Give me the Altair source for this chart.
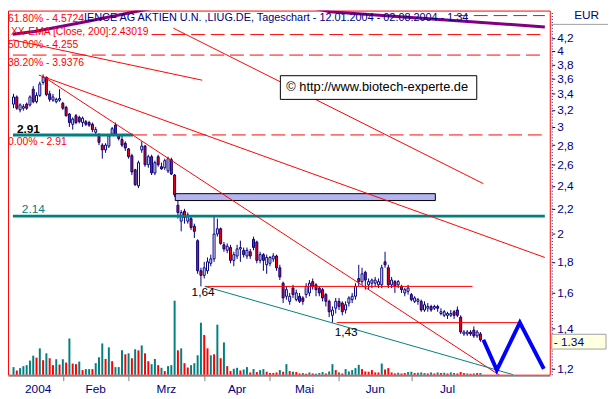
import altair as alt
import pandas as pd

# ---------------- data ----------------
opens = [3.27,3.36,3.20,3.22,3.27,3.26,3.46,3.30,3.38,3.55,
         3.62,3.40,3.32,3.30,3.32,3.28,3.23,3.15,3.03,3.13,
         3.11,3.05,3.06,3.05,3.03,2.94,2.91,2.80,2.75,2.79,
         2.92,3.02,2.91,2.86,2.82,2.76,2.69,2.55,2.40,2.75,
         2.79,2.60,2.68,2.52,2.68,2.58,2.57,2.54,2.65,2.50,
         2.23,2.10,2.18,2.10,2.12,2.06,1.95,1.74,1.71,1.74,
         1.79,1.82,2.00,2.04,1.92,1.88,1.90,1.81,1.84,1.89,
         1.88,1.84,1.87,1.96,1.94,1.81,1.85,1.78,1.79,1.82,
         1.84,1.76,1.66,1.58,1.55,1.63,1.56,1.58,1.57,1.59,
         1.60,1.67,1.65,1.63,1.62,1.59,1.55,1.47,1.51,1.55,
         1.54,1.50,1.54,1.56,1.58,1.69,1.67,1.73,1.65,1.66,
         1.66,1.65,1.65,1.80,1.76,1.65,1.67,1.65,1.64,1.60,
         1.61,1.59,1.55,1.55,1.55,1.50,1.51,1.52,1.51,1.52,
         1.48,1.47,1.47,1.47,1.49,1.50,1.46,1.37,1.37,1.38,
         1.39,1.36,1.37]
highs = [3.40,3.38,3.28,3.27,3.29,3.38,3.50,3.42,3.56,3.66,
         3.63,3.44,3.40,3.35,3.46,3.30,3.25,3.16,3.11,3.15,
         3.13,3.12,3.08,3.07,3.05,3.00,2.93,2.82,2.82,2.92,
         3.00,3.05,2.92,2.90,2.84,2.77,2.71,2.56,2.64,2.84,
         2.80,2.70,2.70,2.64,2.70,2.62,2.66,2.68,2.67,2.51,
         2.27,2.19,2.20,2.17,2.14,2.08,1.96,1.76,1.80,1.83,
         1.85,2.14,2.12,2.05,1.94,1.93,1.92,1.87,1.92,1.95,
         1.90,1.90,1.89,1.98,1.95,1.87,1.86,1.85,1.84,1.86,
         1.85,1.78,1.67,1.64,1.60,1.65,1.62,1.60,1.58,1.66,
         1.68,1.69,1.66,1.64,1.63,1.60,1.56,1.52,1.57,1.57,
         1.55,1.55,1.58,1.60,1.66,1.78,1.76,1.74,1.69,1.69,
         1.70,1.69,1.78,1.87,1.78,1.70,1.68,1.68,1.65,1.63,
         1.65,1.60,1.58,1.57,1.56,1.55,1.54,1.53,1.53,1.53,
         1.51,1.50,1.49,1.50,1.50,1.52,1.47,1.39,1.39,1.39,
         1.41,1.39,1.38]
lows = [3.22,3.20,3.17,3.19,3.20,3.24,3.28,3.28,3.36,3.52,
        3.37,3.30,3.30,3.28,3.30,3.20,3.12,3.00,2.97,3.03,
        3.04,3.00,3.01,3.00,2.94,2.92,2.80,2.66,2.72,2.77,
        2.90,2.90,2.85,2.78,2.74,2.66,2.50,2.40,2.38,2.72,
        2.58,2.57,2.50,2.50,2.58,2.55,2.55,2.52,2.50,2.30,
        2.12,2.02,2.08,2.08,2.03,1.97,1.72,1.64,1.69,1.72,
        1.77,1.80,1.98,1.92,1.87,1.86,1.79,1.77,1.82,1.80,
        1.83,1.82,1.82,1.88,1.79,1.79,1.74,1.72,1.77,1.80,
        1.74,1.68,1.54,1.56,1.53,1.57,1.55,1.54,1.53,1.57,
        1.58,1.62,1.58,1.58,1.55,1.52,1.46,1.43,1.48,1.50,
        1.47,1.48,1.52,1.54,1.56,1.64,1.65,1.62,1.62,1.63,
        1.64,1.63,1.63,1.76,1.63,1.63,1.60,1.63,1.60,1.58,
        1.59,1.55,1.54,1.53,1.49,1.49,1.49,1.49,1.50,1.49,
        1.47,1.46,1.45,1.46,1.45,1.46,1.37,1.36,1.36,1.36,
        1.35,1.35,1.33]
closes = [3.36,3.22,3.26,3.24,3.22,3.36,3.30,3.38,3.53,3.62,
          3.39,3.33,3.36,3.33,3.34,3.22,3.13,3.05,3.09,3.05,
          3.06,3.10,3.03,3.02,2.97,2.97,2.83,2.75,2.80,2.90,
          2.98,2.92,2.87,2.80,2.77,2.68,2.53,2.41,2.62,2.79,
          2.60,2.68,2.52,2.62,2.60,2.56,2.64,2.66,2.51,2.32,
          2.17,2.17,2.13,2.15,2.05,2.02,1.74,1.71,1.76,1.80,
          1.82,2.00,2.04,1.93,1.89,1.91,1.81,1.85,1.89,1.90,
          1.85,1.88,1.84,1.90,1.81,1.85,1.81,1.83,1.83,1.84,
          1.76,1.70,1.57,1.62,1.58,1.59,1.60,1.55,1.55,1.64,
          1.66,1.64,1.62,1.60,1.57,1.55,1.49,1.50,1.55,1.52,
          1.49,1.53,1.57,1.58,1.64,1.67,1.72,1.68,1.67,1.68,
          1.68,1.67,1.76,1.78,1.65,1.68,1.64,1.67,1.62,1.62,
          1.63,1.56,1.57,1.56,1.50,1.53,1.52,1.50,1.52,1.51,
          1.49,1.49,1.48,1.48,1.47,1.47,1.38,1.38,1.38,1.37,
          1.36,1.38,1.34]
volumes = [7.7,4.3,6.7,8.7,9.7,14.3,19.3,17.3,26.7,14.7,
           21.7,16.7,9.7,15.7,10.3,15.7,12.3,36.7,11.3,10.7,
           13.3,4.7,5.7,5.7,5.7,11.7,17.7,31.7,16.0,27.7,
           13.7,7.7,7.7,24.7,20.7,21.7,16.7,25.7,24.7,29.7,
           21.7,13.7,10.7,16.0,9.7,7.0,3.7,8.7,9.7,75.0,
           24.7,26.7,11.7,7.3,9.7,11.7,19.7,52.7,40.3,26.7,
           19.7,20.7,50.7,16.7,32.7,8.7,3.7,6.0,7.0,4.3,
           5.3,7.7,2.3,5.7,2.7,4.7,5.7,3.0,1.7,1.7,
           2.3,4.7,3.0,10.7,3.7,3.0,2.7,1.3,1.7,1.0,
           2.3,1.3,1.0,1.7,2.7,1.3,3.3,10.7,4.7,2.3,
           1.3,5.7,3.3,4.7,6.7,10.0,5.7,3.3,3.0,4.7,
           2.3,2.3,11.3,5.3,6.7,2.3,1.3,2.0,1.3,1.7,
           2.7,3.0,1.7,2.0,2.3,1.7,1.3,2.3,1.3,2.3,
           1.7,2.0,1.3,2.3,1.7,1.3,2.7,1.7,1.3,1.0,
           1.3,1.7,1.7]
vol_codes = list("trtttttrtr" "trrtrtrtrr" "trttrtttrt" "rtttrtrtrt" "rrttrtrttt"
                 "rtrrttttrr" "trtrtrrttr" "ttrtrttrrr" "rtrtrtrrtr" "trtttrttrt"
                 "rtttttrrrr" "rrtrrrrtrr" "ttrtttrtrt" "rtrttrrrtr" "trt")

month_labels = ["2004", "Feb", "Mrz", "Apr", "Mai", "Jun", "Jul"]
month_mid = [7.5, 25, 46.5, 68, 88.5, 110, 132]
month_ticks = [15, 35, 58, 78, 99, 121]
price_ticks = [1.2, 1.4, 1.6, 1.8, 2, 2.2, 2.4, 2.6, 2.8, 3, 3.2, 3.4, 3.6, 3.8, 4, 4.2]

fib_levels = [4.5724, 4.255, 3.9376, 2.91]
fib_start = [134.0, 42.0, -0.175, 36.4]
fib_labels = ["61.80% - 4.5724", "50.00% - 4.255", "38.20% - 3.9376", "0.00% - 2.91"]
fib_dy = [4, 11, 8, 7.6]

ema_i = [-0.175, 6.8, 22.3, 36.9, 55, 80, 96.2, 161.6]
ema_p = [4.26, 4.31, 4.47, 4.64, 4.85, 4.85, 4.64, 4.38]

trend_name = ["a", "a", "up", "up", "long", "long", "steep", "steep"]
trend_i = [-0.175, 57.4, 48.6, 142.9, 7.7, 161.6, 9.75, 148.0]
trend_p = [4.17, 3.58, 4.36, 2.42, 3.65, 1.83, 3.61, 1.17]

support_i = [58.2, 152.0]
support_p = [1.64, 1.174]

hline_p = [1.64, 1.43]
hline_start = [58.2, 98.3]
hline_end = [139.6, 153.8]

zig_i = [142.9, 147.0, 154.0, 161.3]
zig_p = [1.34, 1.195, 1.43, 1.2]

zone_i = [49.2, 128.3]
zone_p = [2.27, 2.33]

# ---------------- style helpers ----------------
X_MIN, X_MAX = -0.175, 161.6
FONT = "Liberation Sans"
RED, NAVY, TEAL = "#FF0000", "#000080", "#008080"

xscale = alt.Scale(domain=[X_MIN, X_MAX], nice=False, zero=False)
yscale = alt.Scale(type="log", domain=[1.174, 4.66], nice=False, zero=False)
xaxis = alt.Axis(values=month_ticks, labels=False, domain=True, domainColor="#808080",
                 ticks=True, tickSize=5, tickColor="#808080", grid=False, title=None,
                 orient="bottom", offset=1)
yaxis = alt.Axis(orient="right", values=price_ticks, grid=False, title=None,
                 labelExpr="replace(toString(datum.value), '.', ',')",
                 labelFont=FONT, labelFontSize=12, labelColor=NAVY,
                 domainColor=NAVY, domainDash=[1, 2], tickColor=NAVY, tickSize=3,
                 labelPadding=2, offset=2)


def X(f="i"):
    return alt.X(f"{f}:Q", scale=xscale, axis=xaxis)


def Y(f="p"):
    return alt.Y(f"{f}:Q", scale=yscale, axis=yaxis)


n = len(closes)
df = pd.DataFrame({"i": list(range(n)), "o": opens, "h": highs, "l": lows, "c": closes,
                   "v": volumes,
                   "vc": [TEAL if k == "t" else RED for k in vol_codes]})
df["fill"] = [RED if c < o else "#FFFFFF" for o, c in zip(opens, closes)]

# volume
volume = alt.Chart(df).mark_bar(size=2).encode(
    x=X(), y=alt.Y("v:Q", scale=alt.Scale(domain=[0, 369], nice=False), axis=None),
    color=alt.Color("vc:N", scale=None))

fib_df = pd.DataFrame({"p": fib_levels, "s": fib_start, "e": [X_MAX] * 4,
                       "lab": fib_labels, "dy": fib_dy})
fib_lines = alt.Chart(fib_df).mark_rule(color=RED, strokeWidth=1, strokeDash=[14, 6]).encode(
    x=X("s"), x2="e", y=Y())

zone = alt.Chart(pd.DataFrame({"a": [zone_i[0]], "b": [zone_i[1]],
                               "lo": [zone_p[0]], "hi": [zone_p[1]]})).mark_rect(
    fill="#B4B4F0", stroke="#000000", strokeWidth=1).encode(
    x=X("a"), x2="b", y=Y("lo"), y2="hi")

wicks = alt.Chart(df).mark_rule(color=NAVY, strokeWidth=1).encode(x=X(), y=Y("l"), y2="h")
bodies = alt.Chart(df).mark_bar(size=2, stroke=NAVY, strokeWidth=1).encode(
    x=X(), y=Y("o"), y2="c", fill=alt.Fill("fill:N", scale=None))

teal_df = pd.DataFrame({"p": [2.91, 2.14], "s": [X_MIN, X_MIN], "e": [36.4, X_MAX]})
teal_lines = alt.Chart(teal_df).mark_rule(color=TEAL, strokeWidth=3).encode(
    x=X("s"), x2="e", y=Y())

hl_df = pd.DataFrame({"p": hline_p, "s": hline_start, "e": hline_end})
hlines = alt.Chart(hl_df).mark_rule(color=RED, strokeWidth=1).encode(x=X("s"), x2="e", y=Y())

tr_df = pd.DataFrame({"name": trend_name, "i": trend_i, "p": trend_p})
trends = alt.Chart(tr_df).mark_line(color=RED, strokeWidth=1, clip=True).encode(
    x=X(), y=Y(), detail="name:N")

sup = alt.Chart(pd.DataFrame({"i": support_i, "p": support_p})).mark_line(
    color=TEAL, strokeWidth=1, clip=True).encode(x=X(), y=Y())

ema = alt.Chart(pd.DataFrame({"i": ema_i, "p": ema_p})).mark_line(
    color="#800080", strokeWidth=3, clip=True).encode(x=X(), y=Y())

zig = alt.Chart(pd.DataFrame({"i": zig_i, "p": zig_p})).mark_line(
    color="#0000FF", strokeWidth=4).encode(x=X(), y=Y())

fib_texts = [alt.Chart(fib_df.iloc[[k]]).mark_text(
    align="left", baseline="middle", font=FONT, fontSize=10.5, color=RED, dy=fib_dy[k]).encode(
    x=alt.value(0), y=Y(), text="lab:N") for k in range(4)]


def label(txt, price, px, dy, color, size=11, weight="normal"):
    return alt.Chart(pd.DataFrame({"p": [price], "t": [txt]})).mark_text(
        align="left", baseline="middle", font=FONT, fontSize=size, color=color,
        fontWeight=weight, dy=dy).encode(x=alt.value(px), y=Y(), text="t:N")


lab291 = label("2.91", 2.91, 9, -6, "#000000", 12, "bold")
lab214 = label("2.14", 2.14, 14, -7, TEAL, 12)
lab164 = label("1,64", 1.64, 186, 5.5, "#000000", 12)
lab143 = label("1,43", 1.43, 331, 9.5, "#000000", 12)


def ptext(txt, px, py, color, size=11, align="left"):
    return alt.Chart(pd.DataFrame({"t": [txt]})).mark_text(
        align=align, baseline="middle", font=FONT, fontSize=size, color=color).encode(
        x=alt.value(px), y=alt.value(py), text="t:N")


title = ptext("IENCE AG AKTIEN U.N. ,LIUG.DE, Tageschart - 12.01.2004 - 02.08.2004 - 1.34",
              77, 8, NAVY, 11)
ema_lab = ptext("XX-EMA [Close, 200]:2.43019", 3, 21.5, RED, 10.5)

copy_box = alt.Chart(pd.DataFrame({"a": [0]})).mark_rect(
    fill="#FFFFFF", stroke="#000000", strokeWidth=1).encode(
    x=alt.value(276), x2=alt.value(475), y=alt.value(66), y2=alt.value(90))
copy_txt = ptext("\u00a9  http://www.biotech-experte.de", 282, 78, "#000000", 13)

eur = ptext("EUR", 599, 5, NAVY, 12, "right")
eur_line = alt.Chart(pd.DataFrame({"a": [0]})).mark_rule(color="#A0A0A0").encode(
    x=alt.value(550), x2=alt.value(608), y=alt.value(14))
last_box = alt.Chart(pd.DataFrame({"a": [0]})).mark_rect(
    fill="#FFFFE1", stroke="#A0A0A0", strokeWidth=1).encode(
    x=alt.value(551), x2=alt.value(606), y=alt.value(328), y2=alt.value(343))
last_txt = ptext("- 1.34", 553, 335.5, NAVY, 12)

months = alt.Chart(pd.DataFrame({"i": month_mid, "t": month_labels})).mark_text(
    align="center", baseline="middle", font=FONT, fontSize=12, color=NAVY).encode(
    x=X(), y=alt.value(384), text="t:N")

price_layer = alt.layer(
    fib_lines, zone, wicks, bodies, teal_lines, hlines, trends, sup, ema, zig,
    *fib_texts, lab291, lab214, lab164, lab143, title, ema_lab, copy_box, copy_txt,
    eur, eur_line, last_box, last_txt, months)

chart = alt.layer(volume, price_layer).resolve_scale(y="independent").properties(
    width=549, height=369,
    autosize=alt.AutoSizeParams(type="none"),
    padding={"left": 0, "top": 0, "right": 59, "bottom": 22},
    background="#FFFFFF",
).configure_view(stroke=RED, strokeWidth=1)

chart.save("out.html", embed_options={"renderer": "svg", "actions": False})
